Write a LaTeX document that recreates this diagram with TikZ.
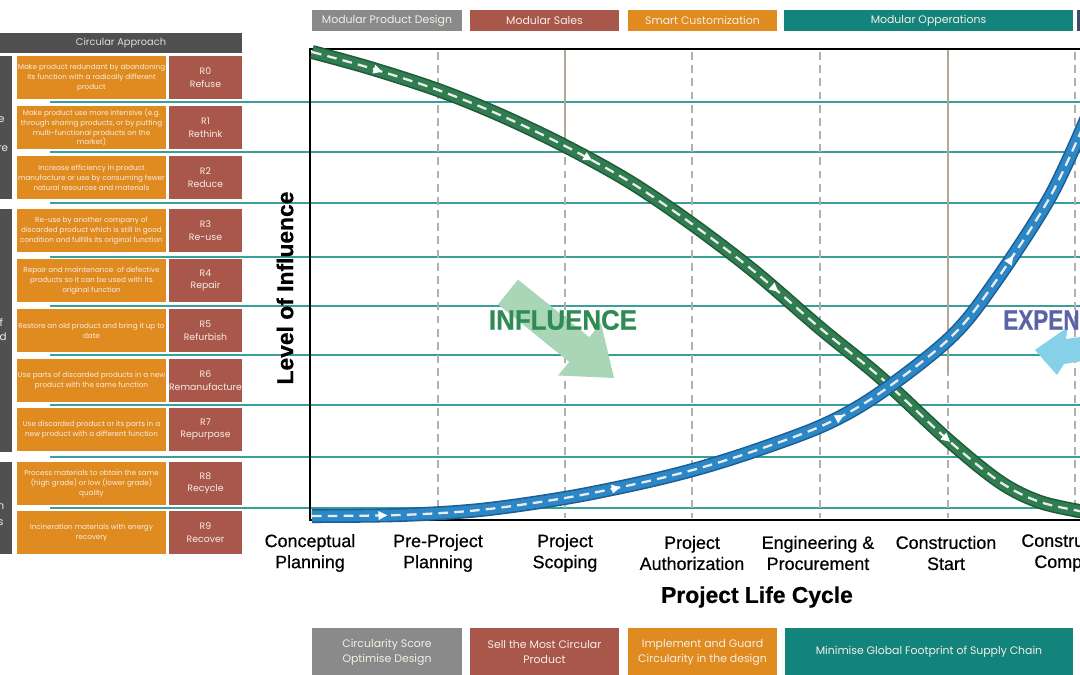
\documentclass[tikz,border=0pt]{standalone}
\usepackage{fontspec}
\setmainfont{Poppins}
\newfontfamily\arialfont{Liberation Sans}[FakeBold=0.6]
\usetikzlibrary{arrows.meta}
\usetikzlibrary{decorations.markings}
\usetikzlibrary{positioning}

\definecolor{boxgray}{HTML}{8A8A8A}
\definecolor{boxred}{HTML}{A9574A}
\definecolor{boxorange}{HTML}{E08B1F}
\definecolor{boxteal}{HTML}{13847B}
\definecolor{boxslate}{HTML}{3D4A6B}
\definecolor{boxdark}{HTML}{505050}
\definecolor{boxtext}{HTML}{F6EEE6}
\definecolor{gridteal}{HTML}{3A9F98}
\definecolor{phasegray}{HTML}{B0B0B0}
\definecolor{inflDark}{HTML}{1E5C38}
\definecolor{inflMid}{HTML}{2F7D50}
\definecolor{expDark}{HTML}{1C5F96}
\definecolor{expMid}{HTML}{2B87C6}
\definecolor{inflText}{HTML}{2F8A55}
\definecolor{inflArrow}{HTML}{A9D6B6}
\definecolor{expText}{HTML}{5B63A6}
\definecolor{expArrow}{HTML}{86D0E8}

\tikzset{
  descbox/.style={fill=boxorange, text=boxtext, minimum width=2.98cm,
    minimum height=0.86cm, inner sep=0pt, align=center,
    font=\fontsize{4.1}{5.6}\selectfont},
  rbox/.style={fill=boxred, text=boxtext, minimum width=1.46cm,
    minimum height=0.86cm, inner sep=0pt, align=center,
    font=\fontsize{5.3}{7.1}\selectfont},
  barbox/.style={text=boxtext, inner sep=0pt, align=center,
    font=\fontsize{6.2}{8.6}\selectfont},
  gridline/.style={gridteal, line width=0.9pt},
  phaseline/.style={phasegray, line width=1.2pt, dash pattern=on 4.5pt off 3pt},
  phasesolid/.style={phasegray!80!brown, line width=0.9pt},
  phaselabel/.style={text=black, align=center, inner sep=0pt,
    font=\arialfont\fontsize{10.2}{12}\selectfont},
  axislabel/.style={text=black, inner sep=0pt,
    font=\arialfont\bfseries\fontsize{13}{15}\selectfont},
  bigword/.style={inner sep=0pt, xscale=0.92,
    font=\arialfont\bfseries\fontsize{16}{18}\selectfont},
  flowdash/.style={white!92!black, line width=1.3pt, dash pattern=on 5.5pt off 3.5pt},
  flowtips/.style={decoration={markings,
    mark=at position 0.08 with {\arrow[white]{Triangle[length=5pt,width=5pt]}},
    mark=at position 0.33 with {\arrow[white]{Triangle[length=5pt,width=5pt]}},
    mark=at position 0.58 with {\arrow[white]{Triangle[length=5pt,width=5pt]}},
    mark=at position 0.83 with {\arrow[white]{Triangle[length=5pt,width=5pt]}}},
    postaction={decorate}}
}

\def\inflpath{plot[smooth, tension=0.55] coordinates {(312,52) (370,68) (438,90)
  (500,115) (565,146) (630,182) (692,224) (755,272) (820,328) (880,377)
  (948,440) (1000,482) (1040,502) (1085,512)}}
\def\exppath{plot[smooth, tension=0.55] coordinates {(312,516) (400,515)
  (480,510) (565,498) (640,483) (700,468) (760,449) (826,424) (880,393)
  (950,338) (993,285) (1050,197) (1088,115)}}

\begin{document}
\begin{tikzpicture}[x=0.02cm, y=-0.02cm]
  \useasboundingbox (0,0) rectangle (1080,675);
  \clip (0,0) rectangle (1080,675);

  % horizontal guide lines
  \foreach \y in {102,152,203,257,306,355,405,457,508}
    \draw[gridline] (50,\y) -- (1085,\y);

  % top bar
  \node[barbox, fill=boxgray, minimum width=3.0cm, minimum height=0.42cm] (b1) at (387,20.5) {Modular Product Design};
  \node[barbox, fill=boxred, minimum width=2.98cm, minimum height=0.42cm] (b2) at (544.5,20.5) {Modular Sales};
  \node[barbox, fill=boxorange, minimum width=2.98cm, minimum height=0.42cm] (b3) at (702.5,20.5) {Smart Customization};
  \node[barbox, fill=boxteal, minimum width=5.78cm, minimum height=0.42cm] (b4) at (928.5,20.5) {Modular Opperations};
  \fill[boxslate] (1077,10) rectangle (1090,31);

  % circular approach panel
  \node[fill=boxdark, text=boxtext!85!gray, minimum width=4.84cm, minimum height=0.4cm,
    inner sep=0pt, font=\fontsize{5.6}{7}\selectfont] (head) at (121,43) {Circular Approach};
  \fill[boxdark] (0,56) rectangle (11.5,199);
  \fill[boxdark] (0,209) rectangle (11.5,452);
  \fill[boxdark] (0,462) rectangle (11.5,554);
  \begin{scope}[text=boxtext, font=\fontsize{5.9}{7}\selectfont, inner sep=0pt]
    \node[anchor=east] (g1a) at (5,120) {e};
    \node[anchor=east] (g1b) at (8.5,149) {re};
    \node[anchor=east] (g2a) at (3.5,323) {f};
    \node[anchor=east] (g2b) at (7,337) {d};
    \node[anchor=east] (g3a) at (4.5,507) {n};
    \node[anchor=east] (g3b) at (4,523) {s};
  \end{scope}

  \foreach \top/\i/\nm/\desc in {
      56/0/Refuse/{Make product redundant by abandoning\\its function with a radically different\\product},
      106/1/Rethink/{Make product use more intensive (e.g.\\through sharing products, or by putting\\multi-functional products on the\\market)},
      156/2/Reduce/{Increase efficiency in product\\manufacture or use by consuming fewer\\natural resources and materials},
      209/3/Re-use/{Re-use by another company of\\discarded product which is still in good\\condition and fulfills its original function},
      259/4/Repair/{Repair and maintenance\ \ of defective\\products so it can be used with its\\original function},
      309/5/Refurbish/{Restore an old product and bring it up to\\date},
      359/6/Remanufacture/{Use parts of discarded products in a new\\product with the same function},
      408/7/Repurpose/{Use discarded product or its parts in a\\new product with a different function},
      462/8/Recycle/{Process materials to obtain the same\\(high grade) or low (lower grade)\\quality},
      511/9/Recover/{Incineration materials with energy\\recovery}} {
    \node[descbox] (d\i) at (91.5,\top+21.5) {\desc};
    \node[rbox] (r\i) at (205.5,\top+21.5) {R\i\\\nm};
  }

  % chart
  \foreach \x in {438,565,692,820,948,1075}
    \draw[phaseline] (\x,52) -- (\x,518);
  \draw[phasesolid] (565,50) -- (565,147);
  \draw[phasesolid] (948,50) -- (948,373);
  \draw[black, line width=1.7pt] (310,49) rectangle (1095,520);

  % influence arrow and word
  \fill[inflArrow] (518,279.6) -- (589.3,337.2) -- (601,323) -- (614,378)
    -- (558,375.5) -- (569.3,362) -- (498,304.4) -- cycle;
  \node[bigword, text=inflText] (infl) at (563,320) {INFLUENCE};

  % expenditure arrow and word
  \fill[expArrow] (1035,350) -- (1068,327) -- (1066,339) -- (1095,335)
    -- (1095,359) -- (1064,364) -- (1057,375) -- cycle;
  \node[bigword, text=expText, anchor=west, xscale=0.87] (expd) at (1003,320) {EXPEN};

  % curves
  \draw[inflDark, line width=8pt] \inflpath;
  \draw[inflMid, line width=6.2pt] \inflpath;
  \draw[flowdash] \inflpath;
  \path[flowtips] \inflpath;

  \draw[expDark, line width=8pt] \exppath;
  \draw[expMid, line width=6.2pt] \exppath;
  \draw[flowdash] \exppath;
  \path[flowtips] \exppath;

  % axis labels
  \node[axislabel, rotate=90] (ylab) at (285,288) {Level of Influence};
  \node[phaselabel] (p1) at (310,553) {Conceptual\\Planning};
  \node[phaselabel] (p2) at (438,553) {Pre-Project\\Planning};
  \node[phaselabel] (p3) at (565,553) {Project\\Scoping};
  \node[phaselabel] (p4) at (692,553) {Project\\Authorization};
  \node[phaselabel] (p5) at (818,553) {Engineering \&\\Procurement};
  \node[phaselabel] (p6) at (946,553) {Construction\\Start};
  \node[phaselabel, anchor=west, align=left] (p7) at (1021,553) {Constru\\\hspace*{0.26cm}Comp};
  \node[axislabel] (xlab) at (757,597) {Project Life Cycle};

  % bottom bar
  \node[barbox, fill=boxgray, minimum width=3.0cm, minimum height=0.96cm] (c1) at (387,652) {Circularity Score\\Optimise Design};
  \node[barbox, fill=boxred, minimum width=2.98cm, minimum height=0.96cm] (c2) at (544.5,652) {Sell the Most Circular\\Product};
  \node[barbox, fill=boxorange, minimum width=2.98cm, minimum height=0.96cm] (c3) at (702.5,652) {Implement and Guard\\Circularity in the design};
  \node[barbox, fill=boxteal, minimum width=5.78cm, minimum height=0.96cm] (c4) at (929,652) {Minimise Global Footprint of Supply Chain};
\end{tikzpicture}
\end{document}
